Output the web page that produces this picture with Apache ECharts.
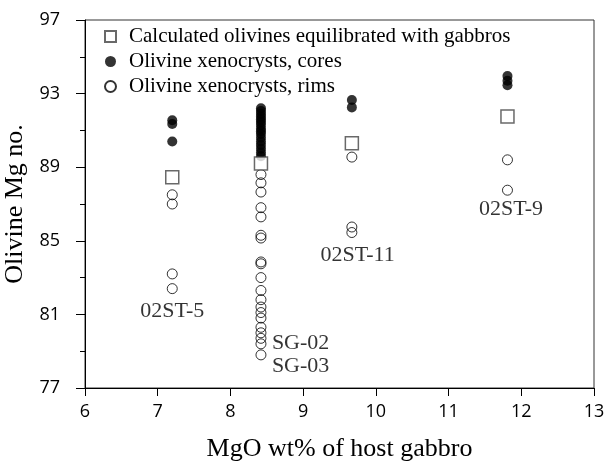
<!DOCTYPE html>
<html>
<head>
<meta charset="utf-8">
<title>Olivine Mg no.</title>
<script src="https://cdn.jsdelivr.net/npm/echarts@6/dist/echarts.min.js"></script>
<style>
    html, body {margin: 0; padding: 0; background: #fff;}
    #main {width: 608px; height: 463px;}
</style>
</head>
<body>
<div id="main"></div>
<script>
// 数据
var calcX = [7.2, 8.42, 9.67, 11.81];
var calcY = [88.45, 89.2, 90.3, 91.75];

var coreX = [7.2, 7.2, 7.2,
    8.42, 8.42, 8.42, 8.42, 8.42, 8.42, 8.42, 8.42, 8.42, 8.42, 8.42, 8.42, 8.42, 8.42, 8.42, 8.42,
    9.67, 9.67,
    11.81, 11.81, 11.81];
var coreY = [91.55, 91.35, 90.4,
    92.2, 92.05, 91.9, 91.75, 91.6, 91.45, 91.3, 91.1, 90.95, 90.8, 90.6, 90.4, 90.2, 90.0, 89.8, 89.6,
    92.65, 92.25,
    93.95, 93.7, 93.45];

var rimX = [7.2, 7.2, 7.2, 7.2,
    8.42, 8.42, 8.42, 8.42, 8.42, 8.42, 8.42, 8.42, 8.42, 8.42, 8.42, 8.42, 8.42, 8.42, 8.42, 8.42, 8.42, 8.42, 8.42, 8.42,
    9.67, 9.67, 9.67,
    11.81, 11.81];
var rimY = [87.5, 87.0, 83.2, 82.4,
    88.6, 88.15, 87.65, 86.8, 86.3, 85.3, 85.15, 83.85, 83.75, 83.0, 82.3, 81.8, 81.4, 81.1, 80.8, 80.3, 80.0, 79.7, 79.4, 78.8,
    89.55, 85.75, 85.45,
    89.4, 87.75];

// 样品标注
var noteText = ['02ST-5', '02ST-11', '02ST-9', 'SG-02', 'SG-03'];
var noteX = [7.2, 9.75, 11.86, 8.57, 8.57];
var noteY = [81.15, 84.2, 86.7, 79.45, 78.2];
var noteAlign = ['center', 'center', 'center', 'left', 'left'];

var xTicks = [6, 7, 8, 9, 10, 11, 12, 13];
var yTicks = [77, 81, 85, 89, 93, 97];

function pairs(xs, ys) {
    var out = [];
    for (var i = 0; i < xs.length; i++) {
        out.push([xs[i], ys[i]]);
    }
    return out;
}

var noteData = [];
for (var i = 0; i < noteText.length; i++) {
    noteData.push({
        value: [noteX[i], noteY[i]],
        name: noteText[i],
        label: {align: noteAlign[i]}
    });
}

var serif = '"Liberation Serif", "Times New Roman", serif';
var sans = '"Open Sans", "DejaVu Sans", sans-serif';

var myChart = echarts.init(document.getElementById('main'));

var option = {
    animation: false,
    backgroundColor: '#fff',
    grid: {
        left: 85,
        right: 14,
        top: 20,
        bottom: 75,
        outerBoundsMode: 'none',
        containLabel: false,
        show: true,
        borderColor: '#333',
        borderWidth: 1,
        backgroundColor: 'transparent'
    },
    legend: {
        orient: 'vertical',
        left: 99,
        top: 21,
        itemGap: 4,
        itemWidth: 11,
        itemHeight: 11,
        data: [
            {name: 'Calculated olivines equilibrated with gabbros'},
            {name: 'Olivine xenocrysts, cores'},
            {name: 'Olivine xenocrysts, rims'}
        ],
        textStyle: {
            fontFamily: serif,
            fontSize: 21,
            color: '#000',
            padding: [0, 0, 0, 8]
        }
    },
    xAxis: {
        type: 'value',
        min: 6,
        max: 13,
        interval: 1,
        name: 'MgO wt% of host gabbro',
        nameLocation: 'middle',
        nameGap: 48,
        nameTextStyle: {fontFamily: serif, fontSize: 26, color: '#000'},
        axisLine: {onZero: false, lineStyle: {color: '#000', width: 1}},
        axisTick: {show: true, length: 8, lineStyle: {color: '#000'}},
        axisLabel: {
            fontFamily: sans, fontSize: 18, color: '#000', margin: 15,
            formatter: function (v) { return xTicks.indexOf(v) >= 0 ? String(v) : ''; }
        },
        splitLine: {show: false}
    },
    yAxis: {
        type: 'value',
        min: 77,
        max: 97,
        interval: 4,
        name: 'Olivine Mg no.',
        nameLocation: 'middle',
        nameGap: 44,
        nameTextStyle: {fontFamily: serif, fontSize: 26, color: '#000'},
        axisLine: {onZero: false, lineStyle: {color: '#000', width: 1}},
        axisTick: {show: true, length: 9, lineStyle: {color: '#000'}},
        minorTick: {show: true, splitNumber: 2, length: 5, lineStyle: {color: '#000'}},
        axisLabel: {
            fontFamily: sans, fontSize: 18, color: '#000', margin: 25,
            formatter: function (v) { return yTicks.indexOf(v) >= 0 ? String(v) : ''; }
        },
        splitLine: {show: false}
    },
    series: [{
        name: 'Olivine xenocrysts, rims',
        type: 'scatter',
        symbol: 'circle',
        symbolSize: 10,
        itemStyle: {color: 'transparent', borderColor: '#000', borderWidth: 1},
        data: pairs(rimX, rimY),
        z: 2
    }, {
        name: 'Olivine xenocrysts, cores',
        type: 'scatter',
        symbol: 'circle',
        symbolSize: 10,
        itemStyle: {color: '#000'},
        data: pairs(coreX, coreY),
        z: 3
    }, {
        name: 'Calculated olivines equilibrated with gabbros',
        type: 'scatter',
        symbol: 'rect',
        symbolSize: 13,
        itemStyle: {color: '#fff', borderColor: '#444', borderWidth: 1.5},
        data: pairs(calcX, calcY),
        z: 4
    }, {
        name: 'notes',
        type: 'scatter',
        symbolSize: 0,
        silent: true,
        data: noteData,
        label: {
            show: true,
            position: 'inside',
            formatter: '{b}',
            fontFamily: serif,
            fontSize: 22,
            color: '#000'
        },
        z: 5
    }]
};

myChart.setOption(option);
</script>
</body>
</html>
